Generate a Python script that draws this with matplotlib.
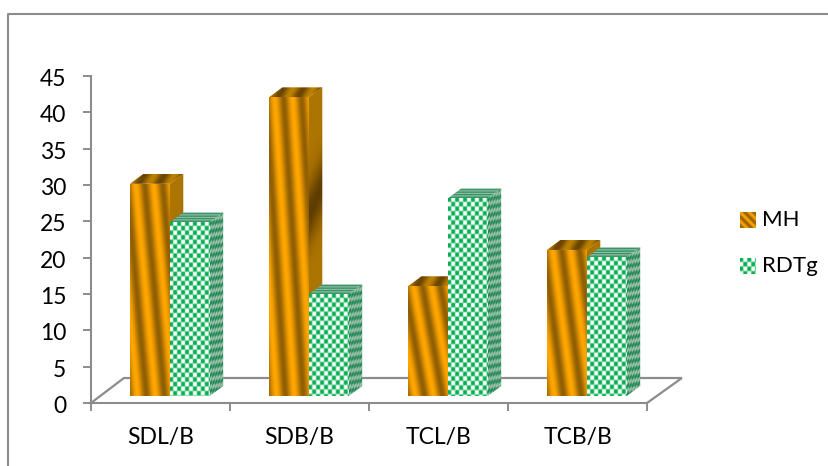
import matplotlib
matplotlib.use('Agg')
import matplotlib.pyplot as plt
from matplotlib.lines import Line2D
from matplotlib.patches import Polygon
from matplotlib.transforms import ScaledTranslation
import numpy as np

categories = ['SDL/B', 'SDB/B', 'TCL/B', 'TCB/B']
mh = [29.2, 41.1, 15.1, 20.1]
rdtg = [23.9, 14.0, 27.2, 19.1]
yticks = [0, 5, 10, 15, 20, 25, 30, 35, 40, 45]

plt.rcParams['font.family'] = ['Lato', 'DejaVu Sans']
GREY = '#8c8c8c'
W, H = 829, 466
PX_X = 139.3   # pixels per category
PX_Y = 7.27    # pixels per y unit
BAR_W = 40.0
DEPTH = (13.5, 10.0)

fig = plt.figure(figsize=(W / 100, H / 100), dpi=100)
ax = fig.add_axes([91 / W, (H - 403) / H, 556 / W, 327 / H])


def lerp(c0, c1, w):
    c0 = np.array(matplotlib.colors.to_rgb(c0))
    c1 = np.array(matplotlib.colors.to_rgb(c1))
    return c0 + (c1 - c0) * np.clip(w, 0, 1)[..., None]


def checker(a, b, cell_a, cell_b, sharp=2.6):
    g = np.sin(np.pi * a / cell_a) * np.sin(np.pi * b / cell_b)
    return 0.5 + 0.5 * np.clip(g * sharp, -1, 1)


def gold_front(s, t, ws, ht):
    w = 0.5 + 0.5 * np.cos(2 * np.pi * (2.2 * s - 1.1 * t - 0.3))
    return lerp('#8f5e04', '#ffa600', w ** 0.9)


def gold_side(s, t, ws, ht):
    w = np.exp(-((t - 0.36 + 0.06 * (s - 0.5)) / 0.10) ** 2)
    return lerp('#ad7500', '#5f3d00', w)


def gold_top(s, t, ws, ht):
    w = 0.5 + 0.5 * np.cos(2 * np.pi * (2 * s + 0.4 * t + 0.05))
    return lerp('#6a4500', '#bd8100', w)


def green_front(s, t, ws, ht):
    return lerp('#ffffff', '#06ae50', checker(s * ws + 1, t * ht + 1, 4.0, 4.6))


def green_side(s, t, ws, ht):
    return lerp('#a6c4b0', '#1a8552', checker(s * ws + 1, t * ht + s * ws * 0.74, 3.4, 4.0))


def green_top(s, t, ws, ht):
    rows = 0.5 + 0.5 * np.sin(np.pi * t * ht / 2.2)
    return lerp('#b4cfbd', '#1a8552', rows ** 0.8)


def face(origin, a, b, shader, z):
    # origin in data units, a and b are the face edges in pixels (y up)
    ox, oy = origin[0] * PX_X, origin[1] * PX_Y
    corners = np.array([[ox, oy], [ox + a[0], oy + a[1]],
                        [ox + a[0] + b[0], oy + a[1] + b[1]], [ox + b[0], oy + b[1]]])
    x0, x1 = corners[:, 0].min(), corners[:, 0].max()
    y0, y1 = corners[:, 1].min(), corners[:, 1].max()
    xs = np.arange(x0, x1 + 0.5, 0.5)
    ys = np.arange(y1, y0 - 0.5, -0.5)
    X, Y = np.meshgrid(xs, ys)
    inv = np.linalg.inv(np.array([[a[0], b[0]], [a[1], b[1]]]))
    s = inv[0, 0] * (X - ox) + inv[0, 1] * (Y - oy)
    t = inv[1, 0] * (X - ox) + inv[1, 1] * (Y - oy)
    rgb = shader(s, t, np.hypot(*a), np.hypot(*b))
    im = ax.imshow(rgb, extent=[x0 / PX_X, x1 / PX_X, y0 / PX_Y, y1 / PX_Y],
                   aspect='auto', interpolation='bilinear', zorder=z)
    clip = Polygon(corners / [PX_X, PX_Y], closed=True, transform=ax.transData)
    im.set_clip_path(clip)


def bar3d(left, value, shaders, z):
    base = 7.0 / PX_Y
    top = base + value
    dx, dy = DEPTH
    h = value * PX_Y
    front, side, lid = shaders
    face((left + BAR_W / PX_X, top), (dx, dy), (0, -h), side, z)
    face((left, top), (BAR_W, 0), (dx, dy), lid, z)
    face((left, top), (BAR_W, 0), (0, -h), front, z + 0.1)


# floor edges behind the bars
back_y = 25.0 / PX_Y
ax.plot([0, 33 / PX_X, 4 + 35 / PX_X, 4], [0, back_y, back_y, 0], color=GREY, lw=1.6,
        clip_on=False, zorder=1, solid_joinstyle='miter')

offset = 39.0 / PX_X
for i in range(len(categories)):
    bar3d(i + offset, mh[i], (gold_front, gold_side, gold_top), 2 + i)
    bar3d(i + offset + BAR_W / PX_X, rdtg[i], (green_front, green_side, green_top), 2.5 + i)

ax.set_xlim(0, 4)
ax.set_ylim(0, 45)
ax.patch.set_visible(False)
for name in ['top', 'right']:
    ax.spines[name].set_visible(False)
for name in ['left', 'bottom']:
    ax.spines[name].set_color(GREY)
    ax.spines[name].set_linewidth(1.5)
ax.set_yticks(yticks)
ax.set_xticks(range(5))
ax.set_xticklabels([])
ax.set_xticks(np.arange(len(categories)) + 0.5, categories, minor=True)
ax.tick_params(axis='y', length=5.8, width=1.4, color=GREY, labelsize=16.5, pad=12)
ax.tick_params(axis='x', which='major', length=5.8, width=1.4, color=GREY)
ax.tick_params(axis='x', which='minor', length=0, labelsize=16.5, pad=17.5)
# nudge the value labels down a little against their ticks
for label in ax.get_yticklabels():
    label.set_transform(label.get_transform() + ScaledTranslation(0, -1.0 / 72, fig.dpi_scale_trans))

# chart area border, left and top edges only
fig.add_artist(Line2D([8.5 / W, 8.5 / W, 1], [0, (H - 13.5) / H, (H - 13.5) / H],
                      color=GREY, lw=1.5))

# legend swatches and labels
def swatch(y_top, shader):
    sw = fig.add_axes([740 / W, (H - y_top - 16) / H, 16 / W, 16 / H])
    yy, xx = np.mgrid[0:16:0.5, 0:16:0.5]
    sw.imshow(shader(xx, yy), aspect='auto', interpolation='bilinear')
    sw.axis('off')


swatch(212, lambda x, y: lerp('#8f5e04', '#ffa600',
                              0.5 + 0.5 * np.cos(2 * np.pi * (x - y) / 9.0)))
swatch(258, lambda x, y: lerp('#ffffff', '#06ae50', checker(x + 1, y + 1, 4.0, 4.6)))
fig.text(762 / W, (H - 220) / H, 'MH', fontsize=16, va='center', color='black')
fig.text(762 / W, (H - 266) / H, 'RDTg', fontsize=16, va='center', color='black')

fig.savefig('out.png', dpi=100)
